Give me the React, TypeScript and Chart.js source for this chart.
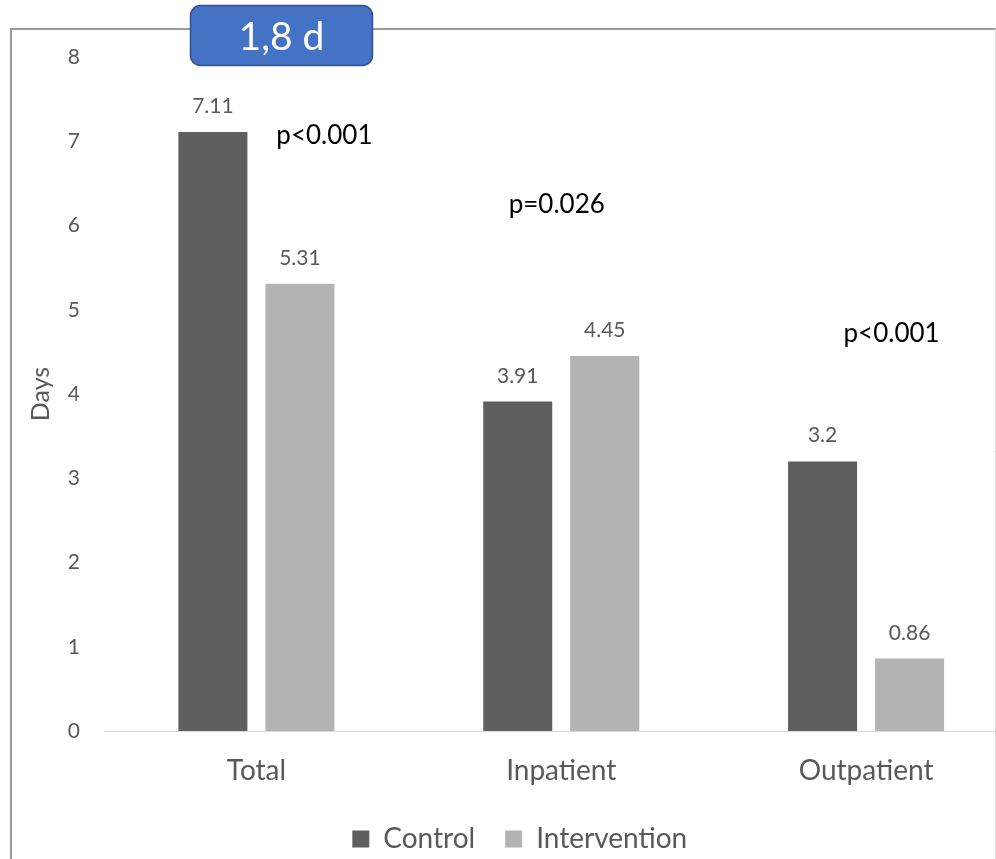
import React, { useEffect, useRef } from "react";
import { Chart, registerables } from "chart.js";

Chart.register(...registerables);

const categories = ["Total", "Inpatient", "Outpatient"];
const seriesNames = ["Control", "Intervention"];
const controlValues = [7.11, 3.91, 3.2];
const interventionValues = [5.31, 4.45, 0.86];
const yTickValues = [0, 1, 2, 3, 4, 5, 6, 7, 8];
const pValueLabels = ["p<0.001", "p=0.026", "p<0.001"];
const yAxisTitle = "Days";
const badgeLabel = "1,8 d";

const FONT = "Lato, 'Open Sans', sans-serif";
const TEXT_GRAY = "#595959";

// annotation placement (pixel offset from category centre, value on y axis)
const pLabelDx = [68, -4.5, 25.5];
const pLabelY = [7.07, 6.25, 4.72];

const framePlugin = {
  id: "frame",
  beforeDraw(chart: any) {
    const { ctx } = chart;
    ctx.save();
    ctx.fillStyle = "#ffffff";
    ctx.fillRect(0, 0, chart.width, chart.height);
    ctx.strokeStyle = "#9a9a9a";
    ctx.lineWidth = 2;
    ctx.beginPath();
    ctx.moveTo(11, chart.height);
    ctx.lineTo(11, 29);
    ctx.lineTo(996, 29);
    ctx.stroke();
    ctx.strokeStyle = "#d9d9d9";
    ctx.lineWidth = 1;
    ctx.beginPath();
    ctx.moveTo(995.5, 29);
    ctx.lineTo(995.5, chart.height);
    ctx.stroke();
    ctx.restore();
  },
  afterDatasetsDraw(chart: any) {
    const { ctx } = chart;
    ctx.save();
    ctx.font = `21px ${FONT}`;
    ctx.fillStyle = TEXT_GRAY;
    ctx.textAlign = "center";
    ctx.textBaseline = "alphabetic";
    chart.data.datasets.forEach((ds: any, di: number) => {
      const meta = chart.getDatasetMeta(di);
      meta.data.forEach((bar: any, i: number) => {
        ctx.fillText(String(ds.data[i]), bar.x, bar.y - 19);
      });
    });
    const xs = chart.scales.x;
    const ys = chart.scales.y;
    ctx.font = `26px ${FONT}`;
    ctx.fillStyle = "#000000";
    ctx.textBaseline = "middle";
    pValueLabels.forEach((t, i) => {
      ctx.fillText(t, xs.getPixelForValue(i) + pLabelDx[i], ys.getPixelForValue(pLabelY[i]));
    });
    ctx.restore();
  },
  afterDraw(chart: any) {
    const { ctx } = chart;
    ctx.save();
    ctx.beginPath();
    (ctx as any).roundRect(190.5, 5.5, 182, 60, 10);
    ctx.fillStyle = "#4472C4";
    ctx.fill();
    ctx.strokeStyle = "#2F528F";
    ctx.lineWidth = 1.5;
    ctx.stroke();
    ctx.fillStyle = "#ffffff";
    ctx.font = `39px ${FONT}`;
    ctx.textAlign = "center";
    ctx.textBaseline = "alphabetic";
    ctx.fillText(badgeLabel, 281.5, 50);
    ctx.restore();
  },
};

export default function App() {
  const ref = useRef<HTMLCanvasElement | null>(null);
  useEffect(() => {
    if (!ref.current) return;
    const chart = new Chart(ref.current, {
      type: "bar",
      data: {
        labels: categories,
        datasets: [
          {
            label: seriesNames[0],
            data: controlValues,
            backgroundColor: "#5f5f5f",
            categoryPercentage: 0.571,
            barPercentage: 0.793,
          },
          {
            label: seriesNames[1],
            data: interventionValues,
            backgroundColor: "#b3b3b3",
            categoryPercentage: 0.571,
            barPercentage: 0.793,
          },
        ],
      },
      options: {
        responsive: false,
        animation: false,
        events: [],
        layout: { padding: { left: 21, right: 16.5, top: 57, bottom: 7 } },
        plugins: {
          tooltip: { enabled: false },
          legend: {
            position: "bottom",
            labels: {
              color: TEXT_GRAY,
              font: { family: FONT, size: 28 },
              boxWidth: 17,
              boxHeight: 17,
              padding: 30,
            },
          },
        },
        scales: {
          x: {
            grid: { display: false, drawTicks: false },
            border: { display: true, color: "#d9d9d9", width: 1 },
            ticks: { color: TEXT_GRAY, font: { family: FONT, size: 28 }, padding: 23 },
            afterFit: (s: any) => {
              s.height = 64;
            },
          },
          y: {
            min: 0,
            max: 8,
            grid: { display: false, drawTicks: false },
            border: { display: false },
            afterBuildTicks: (s: any) => {
              s.ticks = yTickValues.map((v) => ({ value: v }));
            },
            ticks: { color: TEXT_GRAY, font: { family: FONT, size: 21 }, padding: 24 },
            title: {
              display: true,
              text: yAxisTitle,
              color: TEXT_GRAY,
              font: { family: FONT, size: 25 },
              padding: { top: 5, bottom: 0 },
            },
            afterFit: (s: any) => {
              s.width = 83;
            },
          },
        },
      },
      plugins: [framePlugin],
    });
    return () => chart.destroy();
  }, []);

  return (
    <div
      style={{
        position: "fixed",
        left: 0,
        top: 0,
        width: 996,
        height: 859,
        overflow: "hidden",
        background: "#fff",
      }}
    >
      <canvas ref={ref} width={1035} height={870} style={{ display: "block" }} />
    </div>
  );
}
